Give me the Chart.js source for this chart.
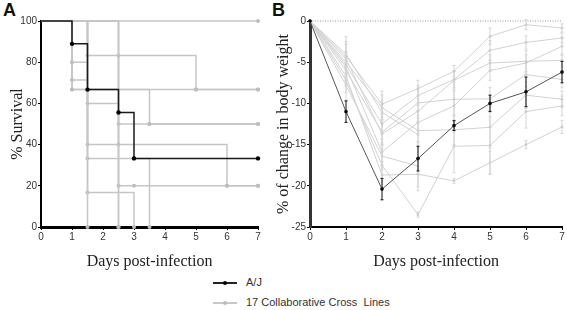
<!DOCTYPE html>
<html>
<head>
<meta charset="utf-8">
<script src="https://cdn.jsdelivr.net/npm/chart.js"></script>
<style>
  body { margin: 0; background: #fff; width: 567px; height: 310px; position: relative; overflow: hidden; }
  canvas { position: absolute; top: 0; }
  #chartA { left: 0; }
  #chartB { left: 270px; }
  .panel { position: absolute; top: 0; font: bold 18px 'Liberation Sans', Arial, sans-serif; color: #111; }
  .legend { position: absolute; left: 213px; height: 14px; font: 11px 'Liberation Sans', Arial, sans-serif; color: #333; white-space: pre; }
  .legend .ln { position: absolute; left: 0; top: 6px; width: 24px; height: 1.5px; }
  .legend .dot { position: absolute; left: 10px; top: 5px; width: 4px; height: 4px; border-radius: 50%; }
  .legend span { position: absolute; left: 33px; top: 0; }
</style>
</head>
<body>
<div class="panel" style="left:3px">A</div>
<div class="panel" style="left:272px">B</div>
<canvas id="chartA" width="268" height="275"></canvas>
<canvas id="chartB" width="297" height="275"></canvas>
<div class="legend" style="top:276px"><div class="ln" style="background:#222"></div><div class="dot" style="background:#000"></div><span>A/J</span></div>
<div class="legend" style="top:296px"><div class="ln" style="background:#c8c8c8"></div><div class="dot" style="background:#bbb"></div><span>17 Collaborative Cross  Lines</span></div>
<script>
const days = [0, 1, 2, 3, 4, 5, 6, 7];

// panel A: survival steps, [day, % survival]
const ajSurvival = [[0, 100], [1, 88.9], [1.5, 66.7], [2.5, 55.6], [3, 33.3], [7, 33.3]];
const ccSurvival = [
  [[0, 100], [7, 100]],
  [[0, 100], [1.5, 0]],
  [[0, 100], [2.5, 0]],
  [[0, 100], [1.5, 83.3], [2.5, 83.3], [5, 66.7], [7, 66.7]],
  [[0, 100], [1, 80], [1.5, 40], [2.5, 40], [6, 20], [7, 20]],
  [[0, 100], [1, 71.4], [1.5, 60], [2.5, 0]],
  [[0, 100], [1, 66.7], [3.5, 50], [7, 50]],
  [[0, 100], [1, 66.7], [5, 66.7], [7, 66.7]],
  [[0, 100], [1.5, 33.3], [3, 33.3], [3.5, 0]],
  [[0, 100], [1.5, 16.7], [3, 0]],
  [[0, 100], [2.5, 50], [3.5, 50], [7, 50]],
  [[0, 100], [2.5, 20], [3, 20], [6, 20], [7, 20]]
];

// panel B: % change in body weight per day, with error bars
const ajWeight = [0, -11, -20.4, -16.7, -12.7, -10, -8.6, -6.2];
const ajWeightErr = [0, 1.3, 1.3, 1.5, 0.6, 1.0, 1.8, 1.3];
const ccWeight = [
  [0, -4.3, -10.1, -8.2, -6.1, -1.86, -0.45, -0.85],
  [0, -5.3, -12.5, -9.05, -7.1, -3.56, -2.6, -2.06],
  [0, -4.6, -13.7, -10.96, -7.2, -5.1, -4.9, -4.77],
  [0, -5.6, -15.9, -12.3, -10.3, -6.0, -5.1, -3.07],
  [0, -6.0, -13.5, -9.94, -9.5, -9.45, -6.5, -7.1],
  [0, -5.0, -10.5, -13.3, -13.2, -12.9, -9.0, -9.5],
  [0, -7.2, -17.5, -23.5, -15.2, -15.1, -11.0, -10.3],
  [0, -6.7, -18.7, -18.6, -19.4, -17.2, -15.0, -12.85],
  [0, -7.8, -16.4, -17.6, null, null, null, null],
  [0, -4.0, -11.1, -13.8, null, null, null, null]
];
const ccWeightErr = [
  [0, 2.4, 1.6, 1.0, 0.7, 1.0, 0.6, 0.5],
  [0, 1.5, 1.2, 1.2, 1.0, 1.2, 0.8, 0.6],
  [0, 1.8, 1.4, 1.5, 1.1, 1.0, 1.3, 0.8],
  [0, 1.4, 1.6, 1.4, 1.8, 1.2, 1.0, 1.1],
  [0, 1.2, 1.5, 1.6, 2.0, 1.4, 1.5, 1.0],
  [0, 1.3, 1.5, 1.5, 1.8, 2.5, 1.6, 1.0],
  [0, 1.5, 2.0, 0.3, 3.2, 3.5, 2.0, 1.2],
  [0, 1.2, 1.6, 1.5, 0.3, 1.4, 0.5, 0.8],
  [0, 1.8, 1.6, 3.0, 0, 0, 0, 0],
  [0, 1.5, 1.3, 1.6, 0, 0, 0, 0]
];

const tickFont = { family: "'Liberation Sans Narrow', 'Arial Narrow', 'Liberation Sans', sans-serif", size: 10 };
const titleFont = { family: "'Liberation Serif', 'Times New Roman', serif", size: 16 };

const errorBars = {
  id: 'errorBars',
  afterDatasetDraw(chart, args) {
    const ds = chart.data.datasets[args.index];
    if (!ds.err) return;
    const { ctx, scales: { x, y } } = chart;
    ctx.save();
    ctx.strokeStyle = ds.errColor;
    ctx.lineWidth = 1;
    ds.data.forEach((p, i) => {
      const e = ds.err[i];
      if (p.y == null || !e) return;
      const px = x.getPixelForValue(p.x);
      const top = y.getPixelForValue(p.y + e);
      const bot = y.getPixelForValue(p.y - e);
      ctx.beginPath();
      ctx.moveTo(px, top); ctx.lineTo(px, bot);
      ctx.moveTo(px - 1.5, top); ctx.lineTo(px + 1.5, top);
      ctx.moveTo(px - 1.5, bot); ctx.lineTo(px + 1.5, bot);
      ctx.stroke();
    });
    ctx.restore();
  }
};

const zeroLine = {
  id: 'zeroLine',
  beforeDatasetsDraw(chart) {
    const { ctx, scales: { x, y } } = chart;
    const py = y.getPixelForValue(0);
    ctx.save();
    ctx.strokeStyle = '#999';
    ctx.lineWidth = 1;
    ctx.setLineDash([1, 1.5]);
    ctx.beginPath();
    ctx.moveTo(x.getPixelForValue(0), py);
    ctx.lineTo(x.getPixelForValue(7), py);
    ctx.stroke();
    ctx.restore();
  }
};

function axis(opts) {
  return {
    type: 'linear',
    min: opts.min,
    max: opts.max,
    ticks: { stepSize: opts.step, font: tickFont, color: '#333', padding: 1 },
    grid: { drawOnChartArea: false, tickLength: 3, color: '#000' },
    border: { color: opts.borderColor || '#000', width: opts.borderWidth },
    title: { display: true, text: opts.title, font: titleFont, color: '#222', padding: opts.titlePad },
    afterFit: opts.fit
  };
}

const toPts = (arr) => arr.map(([x, y]) => ({ x, y }));

const aDatasets = [{
  data: toPts(ajSurvival),
  stepped: true,
  borderColor: '#1a1a1a',
  borderWidth: 1.5,
  pointBackgroundColor: '#000',
  pointBorderWidth: 0,
  pointRadius: (c) => (c.raw && c.raw.x === 0 ? 0 : 2.2),
  clip: false
}].concat(ccSurvival.map((s) => ({
  data: toPts(s),
  stepped: true,
  borderColor: '#c6c6c6',
  borderWidth: 1.5,
  pointBackgroundColor: '#bdbdbd',
  pointBorderWidth: 0,
  pointRadius: (c) => (c.raw && c.raw.x === 0 ? 0 : 2),
  clip: false
})));

new Chart(document.getElementById('chartA'), {
  type: 'line',
  data: { datasets: aDatasets },
  options: {
    responsive: false,
    animation: false,
    devicePixelRatio: 1,
    layout: { padding: { top: 21, right: 10, left: 0, bottom: 0 } },
    plugins: { legend: { display: false }, tooltip: { enabled: false } },
    scales: {
      x: axis({ min: 0, max: 7, step: 1, title: 'Days post-infection', borderWidth: 3,
        titlePad: { top: 0, bottom: 4 }, fit: (s) => { s.height = 48; } }),
      y: axis({ min: 0, max: 100, step: 20, title: '% Survival', borderWidth: 2,
        titlePad: { top: 8, bottom: 0 }, fit: (s) => { s.width = 41; } })
    }
  }
});

const weightPts = (arr) => arr.map((v, i) => ({ x: days[i], y: v }));

const bDatasets = [{
  data: weightPts(ajWeight),
  err: ajWeightErr,
  errColor: '#111',
  borderColor: '#555',
  borderWidth: 1,
  pointBackgroundColor: '#000',
  pointBorderWidth: 0,
  pointRadius: 1.8,
  clip: false
}].concat(ccWeight.map((s, k) => ({
  data: weightPts(s),
  err: ccWeightErr[k],
  errColor: '#d4d4d4',
  borderColor: '#d2d2d2',
  borderWidth: 1,
  pointBackgroundColor: '#c4c4c4',
  pointBorderWidth: 0,
  pointRadius: 1.3,
  spanGaps: false,
  clip: false
})));

new Chart(document.getElementById('chartB'), {
  type: 'line',
  data: { datasets: bDatasets },
  options: {
    responsive: false,
    animation: false,
    devicePixelRatio: 1,
    layout: { padding: { top: 21, right: 5, left: 0, bottom: 0 } },
    plugins: { legend: { display: false }, tooltip: { enabled: false } },
    scales: {
      x: axis({ min: 0, max: 7, step: 1, title: 'Days post-infection', borderWidth: 2,
        titlePad: { top: 0, bottom: 4 }, fit: (s) => { s.height = 48; } }),
      y: axis({ min: -25, max: 0, step: 5, title: '% of change in body weight', borderWidth: 3,
        borderColor: '#333', titlePad: { top: 4, bottom: 0 }, fit: (s) => { s.width = 40; } })
    }
  },
  plugins: [errorBars, zeroLine]
});
</script>
</body>
</html>
